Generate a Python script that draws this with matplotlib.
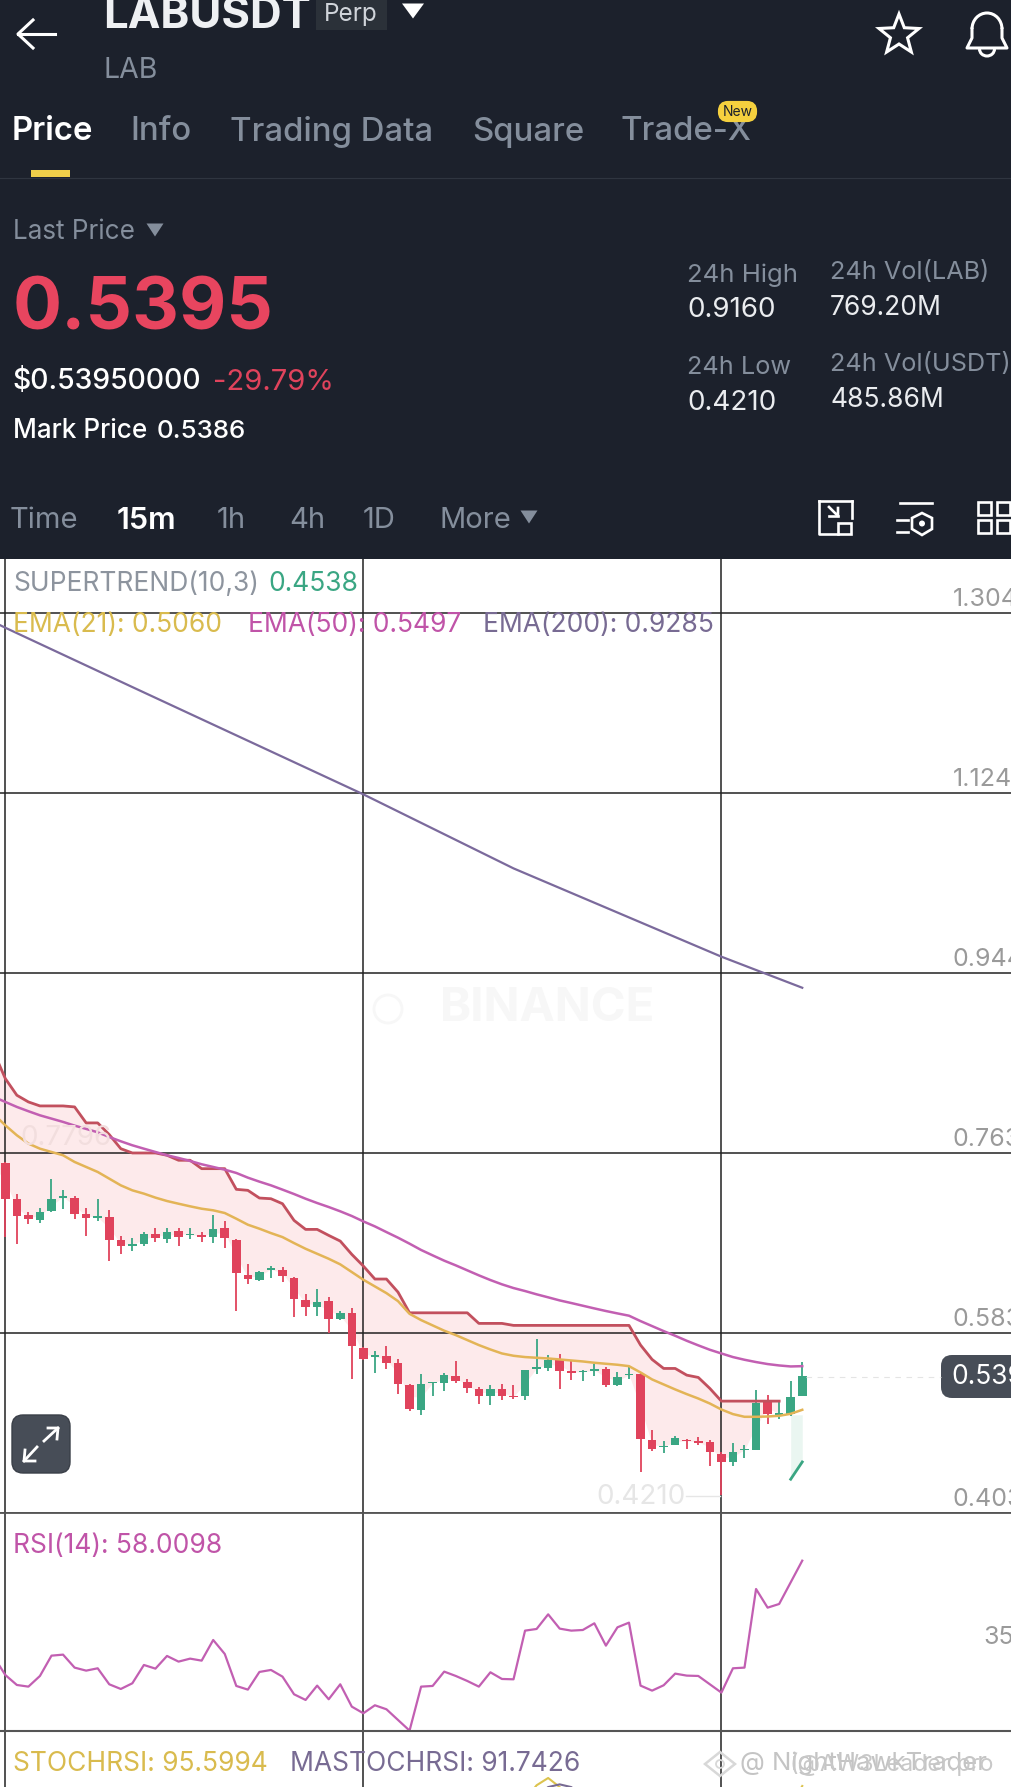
import numpy as np
import matplotlib
matplotlib.use("Agg")
import matplotlib.pyplot as plt
from matplotlib.patches import FancyBboxPatch, Rectangle, Polygon, Circle, Arc

plt.rcParams['font.family'] = ['Inter', 'DejaVu Sans']

# candles, one per 15m
opens = [.7531,.7167,.7006,.6956,.7047,.7184,.7184,.7017,.6980,.6990,
         .6756,.6696,.6723,.6823,.6773,.6850,.6809,.6806,.6789,.6880,
         .6763,.6412,.6362,.6462,.6455,.6382,.6161,.6088,.6145,.5968,
         .6028,.5681,.5587,.5594,.5527,.5313,.5063,.5324,.5324,.5401,
         .5340,.5270,.5200,.5270,.5197,.5197,.5467,.5474,.5558,.5447,
         .5434,.5447,.5464,.5307,.5404,.5414,.4756,.4683,.4709,.4756,
         .4746,.4733,.4622,.4539,.4656,.4656,.5143,.5010,.5023,.5200]
closes = [.7170,.7000,.6973,.7040,.7167,.7200,.7023,.6983,.7000,.6763,
          .6696,.6723,.6816,.6776,.6839,.6789,.6823,.6789,.6873,.6779,
          .6429,.6365,.6439,.6475,.6395,.6171,.6088,.6138,.5971,.6028,
          .5694,.5564,.5604,.5527,.5320,.5069,.5317,.5337,.5407,.5351,
          .5274,.5200,.5267,.5197,.5184,.5457,.5484,.5558,.5451,.5431,
          .5447,.5467,.5307,.5391,.5417,.4763,.4672,.4699,.4773,.4743,
          .4729,.4636,.4539,.4642,.4666,.5130,.5017,.5030,.5190,.5395]
highs = [.7541,.7217,.7040,.7083,.7374,.7264,.7200,.7080,.7170,.7057,
         .6796,.6779,.6836,.6883,.6880,.6883,.6880,.6839,.7006,.6946,
         .6766,.6522,.6449,.6495,.6489,.6389,.6222,.6265,.6188,.6045,
         .6078,.5687,.5644,.5694,.5570,.5320,.5417,.5340,.5424,.5548,
         .5364,.5284,.5307,.5317,.5304,.5457,.5765,.5608,.5618,.5551,
         .5457,.5518,.5484,.5434,.5484,.5424,.4856,.4749,.4799,.4766,
         .4783,.4756,.4639,.4729,.4709,.5257,.5207,.5143,.5351,.5534]
lows = [.6789,.6716,.6923,.6933,.7040,.7067,.6973,.6799,.6950,.6549,
        .6622,.6649,.6699,.6736,.6729,.6696,.6773,.6743,.6729,.6683,
        .6048,.6322,.6349,.6379,.6335,.5994,.6004,.6004,.5827,.5961,
        .5373,.5554,.5433,.5467,.5220,.5053,.5013,.5197,.5250,.5324,
        .5230,.5123,.5110,.5157,.5173,.5163,.5417,.5451,.5270,.5357,
        .5351,.5397,.5290,.5300,.5364,.4439,.4649,.4632,.4703,.4669,
        .4706,.4499,.4210,.4499,.4582,.4656,.4916,.4966,.4996,.5197]

# indicators start one candle left of the visible edge (index -1)
supertrend_red = [.8643,.8376,.8209,.8142,.8102,.8102,.8102,.8092,.7932,.7932,.7815,
                  .7674,.7631,.7631,.7631,.7608,.7558,.7558,.7474,.7474,.7474,
                  .7267,.7257,.7180,.7173,.7123,.6956,.6866,.6866,.6806,.6749,
                  .6616,.6499,.6369,.6369,.6238,.6031,.6031,.6031,.6031,.6031,
                  .6031,.5925,.5925,.5925,.5905,.5905,.5905,.5905,.5905,.5905,
                  .5905,.5905,.5905,.5905,.5905,.5708,.5564,.5474,.5474,.5407,
                  .5384,.5274,.5147,.5147,.5147,.5147,.5147,.5147]
supertrend_green_idx = [68, 69]
supertrend_green = [.4365, .4538]
green_fill_top = [.5010, .5010]
fill_start = .7500

ema21 = [.8019,.7908,.7808,.7725,.7674,.7641,.7608,.7541,.7491,.7441,.7374,
         .7307,.7257,.7224,.7184,.7150,.7123,.7097,.7073,.7057,.7030,
         .6973,.6913,.6873,.6829,.6789,.6729,.6672,.6622,.6572,.6516,
         .6439,.6362,.6295,.6228,.6148,.6021,.5958,.5905,.5852,.5808,
         .5758,.5708,.5664,.5624,.5601,.5588,.5581,.5574,.5564,.5554,
         .5544,.5531,.5521,.5511,.5497,.5434,.5364,.5314,.5264,.5217,
         .5173,.5123,.5063,.5017,.4990,.4990,.4993,.5000,.5020,.5060]
ema50 = [.8192,.8142,.8092,.8049,.8008,.7975,.7942,.7905,.7872,.7838,.7791,
         .7748,.7708,.7674,.7641,.7608,.7581,.7551,.7518,.7491,.7464,
         .7431,.7384,.7344,.7307,.7264,.7220,.7173,.7130,.7090,.7047,
         .7000,.6946,.6896,.6839,.6783,.6723,.6660,.6606,.6553,.6506,
         .6456,.6406,.6359,.6316,.6279,.6249,.6216,.6186,.6155,.6129,
         .6102,.6075,.6049,.6025,.6002,.5948,.5898,.5848,.5801,.5751,
         .5705,.5661,.5624,.5588,.5561,.5538,.5518,.5504,.5494,.5497]
ema200_idx = [-1, 0, 11, 31, 44, 62, 69]
ema200 = [1.2946, 1.2889, 1.2295, 1.1221, 1.0480, .9596, .9285]

rsi = [29.70,24.29,21.34,20.85,24.00,29.99,30.29,26.46,25.57,26.26,21.54,
       20.16,21.84,27.24,26.16,29.90,28.23,29.11,28.52,34.61,30.49,
       21.05,19.97,25.18,25.77,23.80,18.59,16.92,21.15,17.12,21.54,
       14.95,12.99,15.35,14.17,11.02,7.88,20.85,21.05,25.28,24.00,
       22.52,20.85,25.08,23.11,23.01,37.37,37.86,42.18,37.96,37.37,
       37.56,39.53,32.94,38.35,39.73,21.15,19.67,21.25,24.69,24.10,
       24.00,21.54,19.08,26.26,26.46,49.65,44.15,45.23,51.62,58.01]

# only the tops of the stoch lines show at the bottom of the screenshot
stoch_idx = [45, 46, 47, 48, 49, 67, 68, 69]
stoch = [88, 96, 100, 95, 85, 70, 85, 95.6]
mastoch_idx = [46, 47, 48, 49, 50]
mastoch = [90, 95, 96.5, 95, 90]

price_ticks = [.4030, .5832, .7634, .9436, 1.1239, 1.3041]
price_labels = ["0.4030", "0.5830", "0.7630", "0.9440", "1.1240", "1.3040"]
grid_candles = [0, 31, 62]

W, H = 1011, 1787
PLOT_TOP = 559
PRICE_BOTTOM = 1512.7
RSI_BOTTOM = 1730.7
CANDLE_PX = 11.55
X0 = 5.3
xlim = (-X0 / CANDLE_PX, (W - X0) / CANDLE_PX)

BG = "#1c212c"
GREY = "#848e9c"
RED = "#e0435c"
GREEN = "#3aa683"
ST_RED = "#c2505e"
YELLOW = "#d9bb4e"
MAGENTA = "#c054a8"
PURPLE = "#786b93"
LEG = 19
AXIS_SIZE = 18

fig = plt.figure(figsize=(W / 100, H / 100), dpi=100, facecolor="white")


def panel(top, bottom):
    ax = fig.add_axes([0, 1 - bottom / H, 1, (bottom - top) / H])
    ax.set_xlim(*xlim)
    ax.set_xticks([])
    ax.set_yticks([])
    for s in ax.spines.values():
        s.set_visible(False)
    for c in grid_candles:
        ax.axvline(c, color="#222222", lw=1.1, zorder=1.5)
    return ax


# price panel
ax = panel(PLOT_TOP, PRICE_BOTTOM)
ax.set_ylim(.4030, 1.3577)
for t, lab in zip(price_ticks, price_labels):
    ax.axhline(t, color="#222222", lw=1.1, zorder=1.5)
    ax.annotate(lab, xy=(953 / W, t), xycoords=('axes fraction', 'data'), xytext=(0, 9.5),
                textcoords='offset points', va='center', ha='left', fontsize=AXIS_SIZE,
                color="#9a9a9a", annotation_clip=False)

idx = np.arange(len(opens))
opens_a = np.array(opens)
closes_a = np.array(closes)
mid = (opens_a + closes_a) / 2

st_idx = np.arange(-1, len(supertrend_red) - 1)
floor = np.concatenate([[fill_start], mid[:len(supertrend_red) - 1]])
ax.fill_between(st_idx, floor, supertrend_red, color="#fdeaeb", lw=0, zorder=1)
ax.fill_between(supertrend_green_idx, supertrend_green, green_fill_top, color="#eaf6f1", lw=0, zorder=1)

colors = [GREEN if c >= o else RED for o, c in zip(opens, closes)]
ax.vlines(idx, lows, highs, colors=colors, lw=1.3, zorder=3)
ax.bar(idx, np.abs(closes_a - opens_a), bottom=np.minimum(opens_a, closes_a), width=.74, color=colors, zorder=3)

ax.plot(st_idx, supertrend_red, color=ST_RED, lw=2, zorder=4)
ax.plot(supertrend_green_idx, supertrend_green, color=GREEN, lw=2, zorder=4)
ax.plot(np.arange(-1, 70), ema21, color="#e3b456", lw=1.8, zorder=4)
ax.plot(np.arange(-1, 70), ema50, color="#c25fb2", lw=1.8, zorder=4)
ax.plot(ema200_idx, ema200, color="#7b6a9c", lw=1.6, zorder=4)

# rsi panel
ax_rsi = panel(PRICE_BOTTOM, RSI_BOTTOM)
ax_rsi.set_ylim(7.85, 72.16)
ax_rsi.plot(np.arange(-1, 70), rsi, color="#c25fb2", lw=1.6, zorder=4, clip_on=False)

# stoch panel
ax_st = panel(RSI_BOTTOM, H)
ax_st.set_ylim(95.05, 126)
ax_st.plot(stoch_idx, stoch, color="#dcc34e", lw=1.5, zorder=4)
ax_st.plot(mastoch_idx, mastoch, color=PURPLE, lw=1.5, zorder=4)

# everything else is phone UI, drawn in screen pixels on top
ui = fig.add_axes([0, 0, 1, 1])
ui.set_xlim(0, W)
ui.set_ylim(H, 0)
ui.axis('off')
ui.patch.set_alpha(0)


def txt(x, y, s, size, color, weight='normal', ha='left', **kw):
    ui.text(x, y, s, fontsize=size, color=color, fontweight=weight, ha=ha, va='center', **kw)


def tri(cx, cy, w, h, color):
    ui.add_patch(Polygon([(cx - w / 2, cy - h / 2), (cx + w / 2, cy - h / 2), (cx, cy + h / 2)], color=color, lw=0))


ui.add_patch(Rectangle((0, 0), W, PLOT_TOP, color=BG, lw=0, zorder=0))
ui.plot([0, W], [PRICE_BOTTOM + 0.5] * 2, color="#555555", lw=1.3, zorder=1)
ui.plot([0, W], [RSI_BOTTOM] * 2, color="#555555", lw=1.5, zorder=1)

# top bar
ui.plot([18, 55], [34, 34], color="white", lw=2.2)
ui.plot([33, 18, 33], [20, 34, 48], color="white", lw=2.2)
txt(103, 16, "LABUSDT", 31.5, "#eef0f3", 'bold')
ui.add_patch(Rectangle((316, 0), 71, 30, color="#2b3139", lw=0))
txt(351, 14, "Perp", 17.5, "#d0d4da", ha='center')
tri(413, 11, 22, 15, "white")
txt(103, 71, "LAB", 20.5, GREY)

ang = np.pi / 2 + np.arange(10) * np.pi / 5
rad = np.where(np.arange(10) % 2 == 0, 21, 9)
ui.add_patch(Polygon(np.c_[899 + rad * np.cos(ang), 35 - rad * np.sin(ang)], fill=False, ec="white", lw=2.2))
ui.add_patch(Arc((987, 29), 30, 32, theta1=180, theta2=360, ec="white", lw=2.2))
ui.plot([972, 972, 967, 1007, 1002, 1002], [29, 38, 48, 48, 38, 29], color="white", lw=2.2)
ui.add_patch(Arc((987, 49), 15, 14, theta1=0, theta2=180, ec="white", lw=2.2))

# tabs
txt(12, 132, "Price", 23.7, "white", 'semibold')
for x, s in zip([130, 230, 472, 620], ["Info", "Trading Data", "Square", "Trade-X"]):
    txt(x, 132, s, 23.7, GREY, 'medium')
ui.add_patch(FancyBboxPatch((720, 103), 35, 17, boxstyle="round,pad=0,rounding_size=8", fc="#f5d03e", ec="#f5d03e", lw=3, zorder=5))
txt(737.5, 111.5, "New", 10, "#1c212c", ha='center', zorder=6)
ui.add_patch(Rectangle((31, 170), 39, 7, color="#f0cf4a", lw=0))
ui.plot([0, W], [177.5, 177.5], color="#2f3540", lw=0.8, zorder=0.5)

# price block
txt(13, 232, "Last Price", 18.8, GREY)
tri(155, 230, 17, 13, GREY)
txt(13, 311, "0.5395", 52.4, "#e8455f", 'bold')
txt(13, 382, "$0.53950000", 20.4, "white", 'medium')
txt(213, 382, "-29.79%", 21, RED)
txt(13, 431, "Mark Price", 18.8, "white", 'medium')
txt(157, 431, "0.5386", 18.7, "white", 'medium')

txt(687, 275, "24h High", 18.5, GREY)
txt(687, 310, "0.9160", 20, "#eaecef")
txt(687, 367, "24h Low", 18.2, GREY)
txt(687, 403, "0.4210", 20, "#eaecef")
txt(830, 273, "24h Vol(LAB)", 18.2, GREY)
txt(830, 308, "769.20M", 19, "#eaecef")
txt(830, 364, "24h Vol(USDT)", 18.2, GREY)
txt(830, 400, "485.86M", 19, "#eaecef")

# interval row
for x, s in zip([10, 217, 289, 363, 440], ["Time", "1h", "4h", "1D", "More"]):
    txt(x, 521, s, 21, GREY)
txt(117, 521, "15m", 22, "white", 'semibold')
tri(529, 517, 17, 13, GREY)

ui.plot([852, 819], [501, 501], color="white", lw=1.9)
ui.plot([819, 819, 838], [501, 534, 534], color="white", lw=1.9)
ui.plot([852, 852], [501, 518], color="white", lw=1.9)
ui.add_patch(Rectangle((838, 523), 13, 11, fill=False, ec="white", lw=1.9))
ui.plot([829, 838, 838], [507, 516, 508], color="white", lw=1.9)
ui.plot([829, 838], [516, 516], color="white", lw=1.9)
ui.plot([900, 932], [503, 503], color="white", lw=1.9)
ui.plot([897, 908], [520, 520], color="white", lw=1.9)
ui.plot([897, 908], [532, 532], color="white", lw=1.9)
ui.add_patch(Polygon([(922, 513), (932, 518), (932, 529), (922, 535), (912, 529), (912, 518)], fill=False, ec="white", lw=1.9))
ui.add_patch(Circle((922, 523.5), 3, color="white", lw=0))
for x in [978, 997]:
    for y in [502, 520]:
        ui.add_patch(Rectangle((x, y), 13, 13, fill=False, ec="white", lw=1.9))

# legends
txt(13, 584, "SUPERTREND(10,3)", LEG, "#8d949e")
txt(268, 584, "0.4538", LEG, GREEN)
txt(13, 625, "EMA(21): 0.5060", LEG, YELLOW)
txt(248, 625, "EMA(50): 0.5497", LEG, MAGENTA)
txt(483, 625, "EMA(200): 0.9285", LEG, PURPLE)
txt(13, 1546, "RSI(14): 58.0098", LEG, MAGENTA)
txt(13, 1764, "STOCHRSI: 95.5994", LEG, YELLOW)
txt(290, 1764, "MASTOCHRSI: 91.7426", LEG, PURPLE)
txt(983, 1637, "35.50", AXIS_SIZE, "#9a9a9a")

# faint watermarks
txt(548, 1009, "BINANCE", 34, "#f7f7f7", 'bold', ha='center')
ui.add_patch(Circle((388, 1009), 14, fill=False, ec="#f7f7f7", lw=2))
txt(20, 1138, "0.7796", 20, "#f2dede")
txt(596, 1497, "0.4210", 20, "#e6e6e6")
ui.plot([686, 720], [1496, 1496], color="#e6e6e6", lw=1)

# last price tag
ui.plot([806, 941], [1376.5, 1376.5], color="#e4e4e4", lw=0.8, ls=(0, (5, 5)))
ui.add_patch(FancyBboxPatch((941, 1355), 90, 43, boxstyle="round,pad=0,rounding_size=11", fc="#474d57", ec="none"))
txt(951, 1377, "0.5395", 19, "white")

# fullscreen button
ui.add_patch(FancyBboxPatch((12, 1415), 58, 58, boxstyle="round,pad=0,rounding_size=11", fc="#474d57", ec="#3a3f48", lw=1))
ui.plot([44, 58], [1441, 1428], color="white", lw=2)
ui.plot([48, 58, 57], [1428, 1428, 1439], color="white", lw=2)
ui.plot([37, 24], [1447, 1461], color="white", lw=2)
ui.plot([25, 24, 35], [1450, 1461, 1461], color="white", lw=2)

# repost watermark, two names printed over each other
ui.add_patch(Polygon([(720, 1752), (735, 1764), (720, 1776), (705, 1764)], fill=False, ec="#d8d8d8", lw=1.8))
ui.add_patch(Circle((720, 1764), 4, fill=False, ec="#d8d8d8", lw=1.3))
txt(740, 1763, "@ NightHawkTrader", 18.5, "#c4c4c4")
txt(790, 1764, "(@AW3Leader.pro", 16.8, "#c8c8c8")

fig.savefig("out.png", dpi=100)
